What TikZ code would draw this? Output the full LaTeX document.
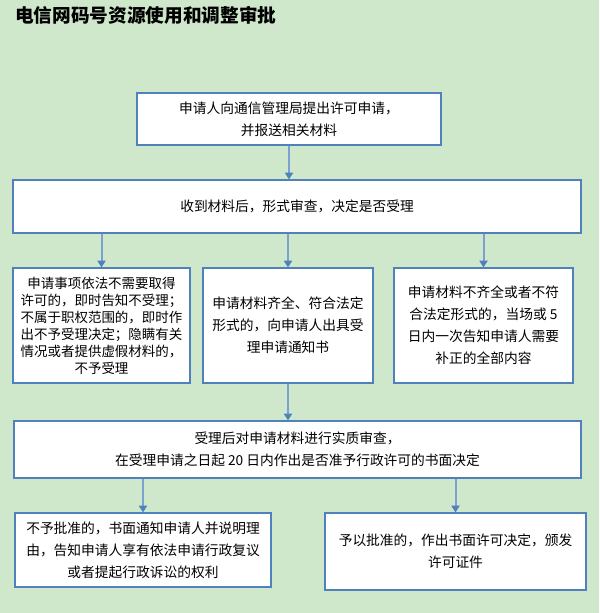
\documentclass[tikz,border=0pt]{standalone}
\usepackage{fontspec}
\setmainfont{Noto Sans CJK SC}
\usetikzlibrary{arrows.meta}

\definecolor{bggreen}{RGB}{207,231,203}
\definecolor{boxblue}{RGB}{79,129,189}
\definecolor{lineblue}{RGB}{125,160,210}

\begin{document}
\begin{tikzpicture}[x=0.75pt,y=-0.75pt,
  box/.style={draw=boxblue, line width=0.9pt, fill=white, align=center, inner sep=0pt,
    font=\fontsize{10.3}{16.5}\selectfont},
  flow/.style={lineblue, line width=1.5pt, -{Triangle[length=5pt, width=6pt, color=boxblue]}}]
\useasboundingbox (0,0) rectangle (599,613);
\fill[bggreen] (0,0) rectangle (599,613);
% title
\node[anchor=west, inner sep=0pt, font=\fontsize{14}{16}\selectfont\bfseries] (title) at (15,15) {电信网码号资源使用和调整审批};
% application and first check
\node[box, minimum width=228pt, minimum height=39pt] (apply) at (289,119)
  {申请人向通信管理局提出许可申请，\\并报送相关材料};
\node[box, minimum width=426pt, minimum height=39.75pt] (check) at (297,206.5)
  {收到材料后，形式审查，决定是否受理};
% three outcomes
\node[box, minimum width=132.75pt, minimum height=86.25pt, font=\fontsize{10.1}{12.75}\selectfont] (reject) at (101.5,325.5)
  {申请事项依法不需要取得\\许可的，即时告知不受理；\\不属于职权范围的，即时作\\出不予受理决定；隐瞒有关\\情况或者提供虚假材料的，\\不予受理};
\node[box, minimum width=127.5pt, minimum height=86.25pt] (accept) at (288,325.5)
  {申请材料齐全、符合法定\\形式的，向申请人出具受\\理申请通知书};
\node[box, minimum width=134.25pt, minimum height=86.25pt] (amend) at (483.5,325.5)
  {申请材料不齐全或者不符\\合法定形式的，当场或 5\\日内一次告知申请人需要\\补正的全部内容};
% substantive review
\node[box, minimum width=425.25pt, minimum height=42.75pt] (review) at (297.5,449.5)
  {受理后对申请材料进行实质审查，\\在受理申请之日起 20 日内作出是否准予行政许可的书面决定};
% decisions
\node[box, minimum width=192pt, minimum height=55.5pt] (deny) at (143,550)
  {不予批准的，书面通知申请人并说明理\\由，告知申请人享有依法申请行政复议\\或者提起行政诉讼的权利};
\node[box, minimum width=195.75pt, minimum height=57.75pt] (grant) at (455.5,551.5)
  {予以批准的，作出书面许可决定，颁发\\许可证件};
% connectors
\draw[flow] (apply.south) -- (apply.south |- check.north);
\draw[flow] (reject.north |- check.south) -- (reject.north);
\draw[flow] (accept.north |- check.south) -- (accept.north);
\draw[flow] (amend.north |- check.south) -- (amend.north);
\draw[flow] (accept.south) -- (accept.south |- review.north);
\draw[flow] (deny.north |- review.south) -- (deny.north);
\draw[flow] (grant.north |- review.south) -- (grant.north);
\end{tikzpicture}
\end{document}
